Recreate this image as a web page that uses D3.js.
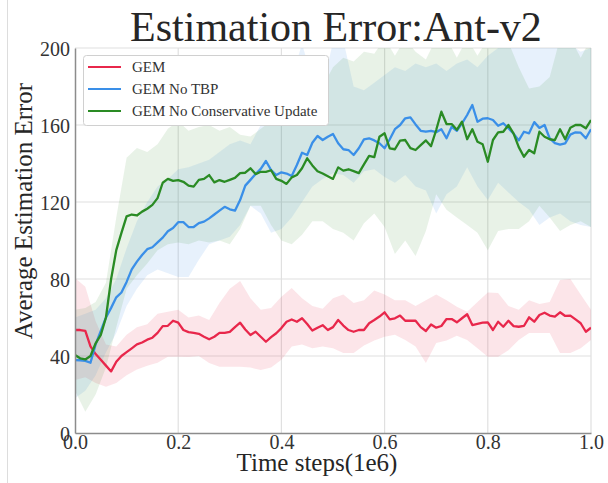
<!DOCTYPE html>
<html>
<head>
<meta charset="utf-8">
<script src="https://cdn.jsdelivr.net/npm/d3@7"></script>
<style>
  html, body { margin: 0; padding: 0; background: #fff; }
  svg { display: block; }
  text { font-family: "Liberation Serif", "DejaVu Serif", serif; }
</style>
</head>
<body>
<svg id="chart" width="608" height="483"></svg>
<script>
// Mean curves, sampled every 0.01 (1e6 time steps)
const gemMean = [53.5,53.5,53,45,41,38,35,32,37,40,42,44,46,47,48.5,49.5,52,55.5,55.7,58.3,57.3,53.5,52.4,52,51.5,50,48.7,50,52,52,52.5,55,57.3,53.8,50.9,52.6,50,47.4,49.8,51.8,54.5,57.8,59,57.8,59.6,56.6,53.2,54.7,56,53.5,55,58.7,55.8,53.5,52.6,53.5,53.5,57,58.7,60.5,62.7,59,59.6,61,58.3,58.3,58.3,55,53,56.4,54.7,55.6,59.2,59.2,57.5,59.6,61.7,56.1,56.7,57.3,57.5,53.5,57.8,55.2,58.3,55.5,55.2,55.6,60.1,57.8,61.3,62.5,61,60.5,62.7,60.8,61,59,57,52.6,54.7];
const noTbpMean = [37.9,37.8,37.5,36.5,46,53,60,65,70.5,73,78.5,85,89,92.5,95.5,96.5,99,101.5,104.8,106.5,109.5,109.5,107,107,109,109.8,111.5,113.5,115.5,117.5,116.2,115.5,121,128.5,131.5,134.5,137.2,141.3,136.6,134,135.4,134.8,133.5,139.2,145.6,144.4,150.8,154.3,152.2,153.9,155.3,150.5,147.4,147,144.4,147.9,152.5,153.1,152,150.5,147.9,152.6,157.8,160,163.5,164,160.3,157,156.5,157,156.3,157.8,153.1,159.1,157,160.9,165.2,170.4,161.7,163.3,163.5,162.6,159.6,160.9,158.3,155.5,152,156.5,155.7,161.5,158.5,160,153,150.6,149.8,150.5,155,156.2,156,153.1,157.8];
const noConsMean = [40.5,38.8,38.2,40,46.6,51,60,80,95,104,112.5,113.5,113,115,116.5,118.5,122,130,132,131,131.4,130.5,128.5,128,131.5,132,134,130.2,131.4,130.5,131.5,132.5,135,135.2,137.5,134.5,135.7,135.7,136.5,132,131,129.4,132.8,134,137.5,142.7,139,136,134.8,133.4,132,138,136.3,137,136,135,139.5,144,143.3,153.9,155.7,147.9,147.4,151.9,152.2,148,147,149.5,152,149,157.4,166.9,160.5,160.5,157.5,161.7,152.6,157.8,151.3,150,140.9,152.2,156.2,156.5,160,155.5,148.5,143.5,147,145.3,156.5,153.9,152.6,152.2,157.8,152.6,158.6,160,160,158.3,162.6];

// Spread bands, sampled every 0.02
const gemLow = [27.5,29,26,24,26,30,33,35,36.5,39.6,39.6,39.5,40,36.3,34.4,34.4,34.4,34,32.7,34,38,45,46,44,45,44,41.5,41.5,45.5,48,50,51,48.3,45,36.3,46.7,48,50.5,48.3,44,39.6,39.6,43,48.3,52,52,52,41.5,41.5,44,48.3];
const gemHigh = [80.5,76,58,46,45,51,55,56.5,62,63,64,60,61,58.7,67.5,75,79,70,64,65,70.8,75.3,70,66,64.5,70,72,67.5,69,74,72,69,69,66,69,72,69,65.6,63,68,73,72.7,66,64,69,67,68,79.5,80,72,64];
const noTbpLow = [18,22,30,42,52,66,75,82,85,83,81,81,90,98,100,102,108,118,114,104,106,112,120,128,132,135,134,130,136,137,133,130,134,128,126,114,124,128,138,128,121,130,125,120,116,108,112,114,110,108,107];
const noTbpHigh = [60,62,64,70,80,96,110,120,128,132,137,138,140,142,146,150,152,150,160,166,172,185,202,184,180,203,204,180,178,182,186,190,188,192,190,192,188,192,194,190,196,200,205,205,205,205,205,200,202,198,200];
const noConsLow = [22,11,20,34,55,75,82,88,95,98,99,98,100,99,100,98,106,118,118,108,100,98,103,110,110,106,104,100,109,114,107,93,100,92,105,124,116,112,108,104,95,105,106,106,110,118,112,105,108,110,107];
const noConsHigh = [64,65,68,78,112,143,148,146,150,158,162,157,159,160,157,159,155,154,158,162,165,168,172,176,180,190,195,193,198,197,205,196,205,198,194,205,205,195,205,196,205,205,203,190,179,180,185,205,205,195,205];

const seriesNames = ["GEM", "GEM No TBP", "GEM No Conservative Update"];
const seriesColors = ["#e8274b", "#3a8fe8", "#2a8b24"];
const xTicks = [0, 0.2, 0.4, 0.6, 0.8, 1.0];
const yTicks = [0, 40, 80, 120, 160, 200];

const series = [
  { name: seriesNames[0], color: seriesColors[0], mean: gemMean, low: gemLow, high: gemHigh, alpha: 0.12 },
  { name: seriesNames[1], color: seriesColors[1], mean: noTbpMean, low: noTbpLow, high: noTbpHigh, alpha: 0.12 },
  { name: seriesNames[2], color: seriesColors[2], mean: noConsMean, low: noConsLow, high: noConsHigh, alpha: 0.11 }
];

const svg = d3.select("#chart");
const plotLeft = 75, plotRight = 591, plotTop = 48, plotBottom = 433;

const x = d3.scaleLinear().domain([0, 1]).range([plotLeft, plotRight]);
const y = d3.scaleLinear().domain([0, 200]).range([plotBottom, plotTop]);

// thin frame line at the far left of the figure
svg.append("line").attr("x1", 7.5).attr("x2", 7.5).attr("y1", 0).attr("y2", 483)
  .attr("stroke", "#dddddd").attr("stroke-width", 1);

svg.append("defs").append("clipPath").attr("id", "plotclip")
  .append("rect").attr("x", plotLeft).attr("y", plotTop)
  .attr("width", plotRight - plotLeft).attr("height", plotBottom - plotTop);

// grid
const grid = svg.append("g");
grid.selectAll("line.vx").data(xTicks.slice(1)).join("line")
  .attr("x1", d => x(d)).attr("x2", d => x(d)).attr("y1", plotTop).attr("y2", plotBottom)
  .attr("stroke", "#e0e0e0").attr("stroke-width", 1.2);
grid.selectAll("line.hy").data(yTicks.slice(1)).join("line")
  .attr("x1", plotLeft).attr("x2", plotRight).attr("y1", d => y(d)).attr("y2", d => y(d))
  .attr("stroke", "#e0e0e0").attr("stroke-width", 1.2);

// bands
const plot = svg.append("g").attr("clip-path", "url(#plotclip)");
const band = d3.area()
  .x((d, i) => x(i * 0.02))
  .y0(d => y(d[0]))
  .y1(d => y(d[1]));
series.forEach(s => {
  const pts = s.low.map((v, i) => [v, s.high[i]]);
  plot.append("path").datum(pts)
    .attr("d", band)
    .attr("fill", s.color).attr("fill-opacity", s.alpha);
});

// mean lines
const line = d3.line().x((d, i) => x(i * 0.01)).y(d => y(d));
series.forEach(s => {
  plot.append("path").datum(s.mean)
    .attr("d", line)
    .attr("fill", "none").attr("stroke", s.color)
    .attr("stroke-width", 2.3).attr("stroke-linejoin", "round");
});

// axes
const xAxis = d3.axisBottom(x).tickValues(xTicks).tickFormat(d3.format(".1f")).tickSize(0).tickPadding(2);
const yAxis = d3.axisLeft(y).tickValues(yTicks).tickFormat(d3.format("d")).tickSize(0).tickPadding(5);

const gx = svg.append("g").attr("transform", `translate(0,${plotBottom})`).call(xAxis);
const gy = svg.append("g").attr("transform", `translate(${plotLeft},0)`).call(yAxis);
[gx, gy].forEach(g => {
  g.select(".domain").attr("stroke", "#8c8c8c").attr("stroke-width", 1.5);
  g.selectAll("text").attr("font-family", "Liberation Serif").attr("font-size", 20).attr("fill", "#333");
});
gy.selectAll("text").attr("dy", "0.36em");
gx.selectAll("text").attr("dy", "0.72em");

// titles
svg.append("text").attr("x", 336).attr("y", 41).attr("text-anchor", "middle")
  .attr("font-size", 42).attr("fill", "#262626").text("Estimation Error:Ant-v2");
svg.append("text").attr("x", 317).attr("y", 471).attr("text-anchor", "middle")
  .attr("font-size", 25).attr("fill", "#262626").text("Time steps(1e6)");
svg.append("text").attr("transform", "translate(32,211) rotate(-90)").attr("text-anchor", "middle")
  .attr("font-size", 25).attr("fill", "#262626").text("Average Estimation Error");

// legend
const lg = svg.append("g");
lg.append("rect").attr("x", 83.5).attr("y", 55.5).attr("width", 245).attr("height", 70).attr("rx", 3)
  .attr("fill", "#fff").attr("stroke", "#d0d0d0").attr("stroke-width", 1);
series.forEach((s, i) => {
  const ly = 67 + i * 22;
  lg.append("line").attr("x1", 88).attr("x2", 121).attr("y1", ly).attr("y2", ly)
    .attr("stroke", s.color).attr("stroke-width", 2.2);
  lg.append("text").attr("x", 132).attr("y", ly + 5).attr("font-size", 15).attr("fill", "#333").text(s.name);
});
</script>
</body>
</html>
